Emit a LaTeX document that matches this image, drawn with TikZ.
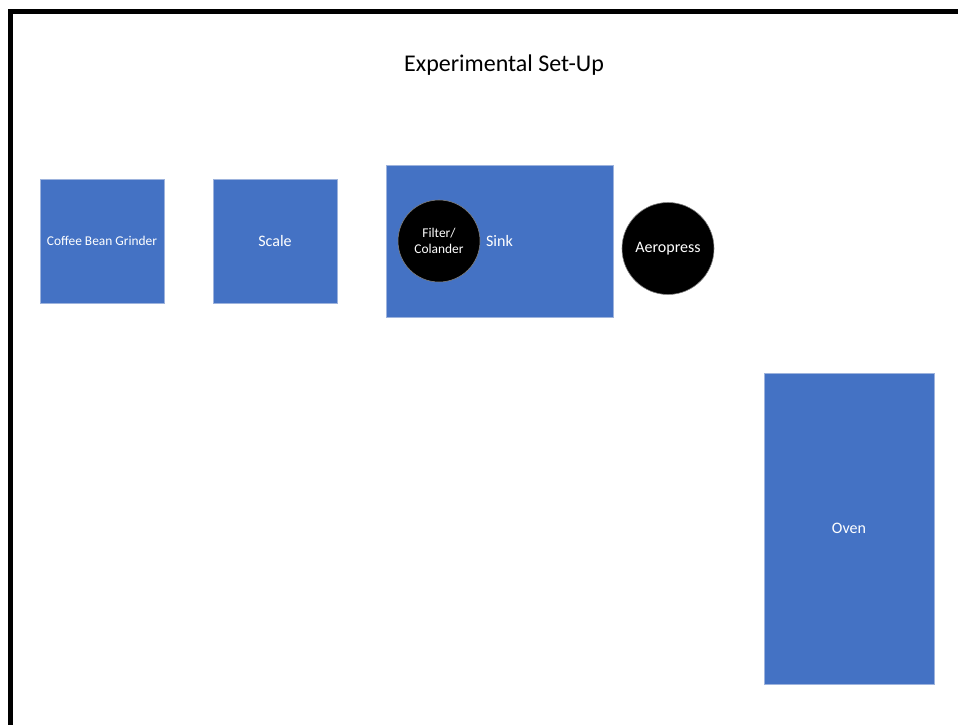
\documentclass[tikz,border=0pt]{standalone}
\usepackage{fontspec}
\setmainfont{Carlito}
\usepackage{tikz}
\definecolor{officeblue}{HTML}{4472C4}
\definecolor{edgeblue}{HTML}{9DB3DD}

\begin{document}
\begin{tikzpicture}[x=1pt,y=-1pt]
\tikzstyle{station}=[draw=edgeblue,line width=0.6pt,fill=officeblue,rectangle,text=white,inner sep=0pt,align=center,font=\fontsize{16}{19}\selectfont]
\tikzstyle{tool}=[draw=gray,line width=0.6pt,fill=black,circle,text=white,inner sep=0pt,align=center,font=\fontsize{16}{19}\selectfont]
\useasboundingbox (0,0) rectangle (958,725);
% frame of the room
\draw[line width=5pt] (10.5,725) -- (10.5,11.5) -- (958,11.5);
\path (504,65) node[font=\fontsize{24}{29}\selectfont] (title) {Experimental Set-Up};
\path (102,241) node[station,minimum width=124pt,minimum height=124pt,font=\fontsize{13.4}{16}\selectfont] (grinder) {Coffee Bean Grinder};
\path (275,241) node[station,minimum width=124pt,minimum height=124pt] (scale) {Scale};
\path (499.5,241) node[station,minimum width=227pt,minimum height=152pt] (sink) {Sink};
\path (439,241) node[tool,minimum size=82pt,font=\fontsize{13.4}{16.5}\selectfont] (filter) {Filter/\\Colander};
\path (668,248.5) node[tool,minimum size=92pt] (aeropress) {Aeropress};
\path (849,528.5) node[station,minimum width=170pt,minimum height=311pt] (oven) {Oven};
\end{tikzpicture}
\end{document}
